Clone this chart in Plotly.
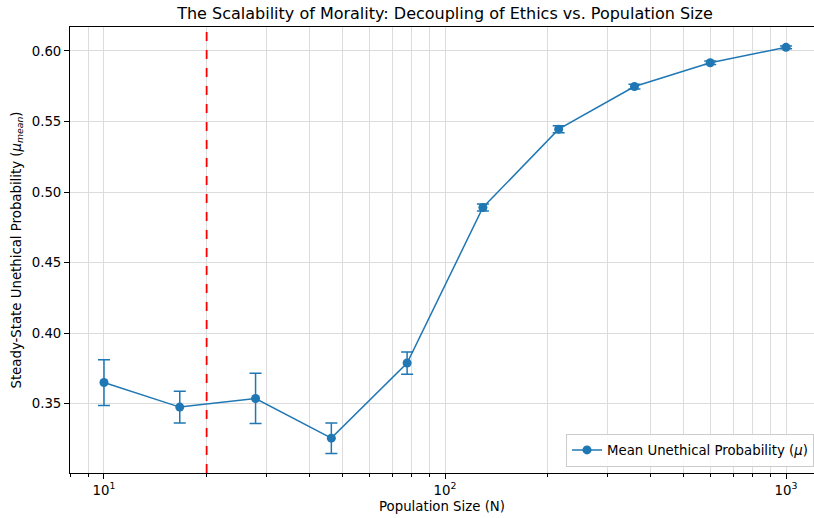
import numpy as np
import plotly.graph_objects as go

population = [10, 16.68, 27.83, 46.42, 77.43, 129.15, 215.44, 359.38, 599.48, 1000]
mean_unethical = [0.3651, 0.3477, 0.3538, 0.3257, 0.3789, 0.4891, 0.5446, 0.5748, 0.5917, 0.6026]
error = [0.0162, 0.0112, 0.0178, 0.0108, 0.0079, 0.0025, 0.0025, 0.0017, 0.0012, 0.0010]
threshold_n = 20

x_ticks = [10, 100, 1000]
x_tick_text = ["10<sup>1</sup>", "10<sup>2</sup>", "10<sup>3</sup>"]
x_minor = [8, 9, 20, 30, 40, 50, 60, 70, 80, 90, 200, 300, 400, 500, 600, 700, 800, 900]
y_ticks = [0.35, 0.40, 0.45, 0.50, 0.55, 0.60]

BLUE = "#1f77b4"
GRID = "#dcdcdc"
FONT = "DejaVu Sans"
FS = 13.3

fig = go.Figure()
fig.add_trace(go.Scatter(
    x=population, y=mean_unethical, mode="lines+markers",
    name="Mean Unethical Probability (<i>μ</i>)",
    line=dict(color=BLUE, width=1.5),
    marker=dict(color=BLUE, size=9),
    error_y=dict(type="data", array=error, color=BLUE, thickness=1.5, width=6),
))
fig.add_shape(
    type="line", xref="x", yref="paper", x0=threshold_n, x1=threshold_n, y0=0, y1=1,
    line=dict(color="red", width=1.8, dash="dash"),
)

fig.update_layout(
    width=814, height=518,
    paper_bgcolor="white", plot_bgcolor="white",
    margin=dict(l=70, r=0, t=27, b=45),
    font=dict(family=FONT, size=FS, color="black"),
    title=dict(
        text="The Scalability of Morality: Decoupling of Ethics vs. Population Size",
        x=445 / 814, xanchor="center", y=1 - 13 / 518, yanchor="middle",
        font=dict(size=16, color="black"),
    ),
    legend=dict(
        x=1, y=0.014, xanchor="right", yanchor="bottom",
        bgcolor="rgba(255,255,255,0.85)", bordercolor="#cccccc", borderwidth=1,
        font=dict(size=FS), tracegroupgap=0,
    ),
    showlegend=True,
)
fig.update_xaxes(
    type="log", range=[np.log10(7.95), np.log10(1208)],
    tickvals=x_ticks, ticktext=x_tick_text,
    ticks="outside", ticklen=5, tickcolor="black",
    showgrid=True, gridcolor=GRID, gridwidth=1,
    minor=dict(tickvals=x_minor, ticks="outside", ticklen=2.5, tickcolor="black",
               showgrid=True, gridcolor=GRID, gridwidth=1),
    showline=True, linecolor="black", linewidth=1, mirror=True,
    zeroline=False, automargin=False,
    title=dict(text="Population Size (N)", font=dict(size=FS), standoff=4),
)
fig.update_yaxes(
    range=[0.301, 0.617],
    tickvals=y_ticks, tickformat=".2f",
    ticks="outside", ticklen=5, tickcolor="black",
    showgrid=True, gridcolor=GRID, gridwidth=1,
    showline=True, linecolor="black", linewidth=1, mirror=False,
    zeroline=False, automargin=False,
    title=dict(text="Steady-State Unethical Probability (<i>μ</i><sub><i>mean</i></sub>)",
               font=dict(size=FS), standoff=7),
)

fig.write_html("out.html", config={"displayModeBar": False},
               post_script="document.body.style.margin='0';")
